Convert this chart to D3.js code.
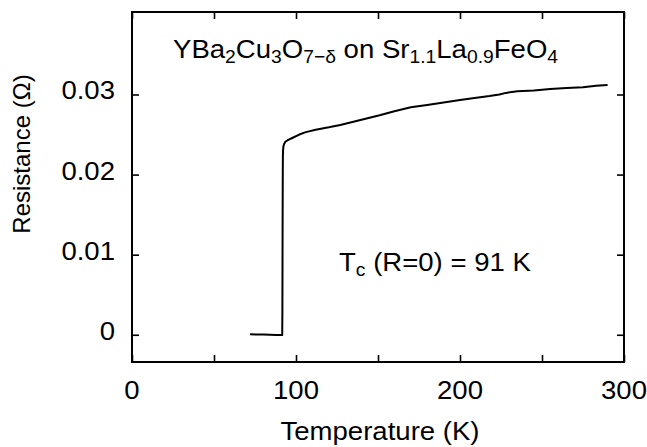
<!DOCTYPE html>
<html>
<head>
<meta charset="utf-8">
<script src="https://cdn.jsdelivr.net/npm/d3@7"></script>
<style>
  html, body { margin: 0; padding: 0; background: #fff; }
  svg { display: block; }
  text { font-family: "Liberation Sans", Arial, Helvetica, sans-serif; fill: #000; }
</style>
</head>
<body>
<svg id="chart" width="647" height="447"></svg>
<script>
// Resistance vs temperature of the YBCO film
const temperature = [72, 76, 80, 84, 88, 90.5, 91.6, 91.7, 91.75, 91.8, 91.85, 91.9, 91.95, 92.0, 92.1, 92.3, 92.7, 93.5, 95, 98, 102, 106, 112, 120, 127, 135, 143, 151, 160, 170, 180, 190, 200, 210, 218, 224, 228, 235, 245, 255, 265, 275, 283, 290];
const resistance  = [0.00005, 0.00003, 0.00002, 0.0, -0.00002, -0.00003, -0.00002, 0.003, 0.007, 0.011, 0.015, 0.018, 0.0205, 0.0222, 0.0230, 0.0235, 0.0238, 0.0241, 0.0243, 0.0246, 0.0250, 0.0253, 0.0256, 0.0259, 0.0262, 0.0266, 0.0270, 0.0274, 0.0279, 0.0284, 0.0287, 0.0290, 0.0293, 0.0296, 0.0298, 0.0300, 0.0302, 0.0304, 0.0305, 0.0307, 0.0308, 0.0309, 0.0311, 0.0312];

const xMajorTicks = [0, 100, 200, 300];
const xMinorTicks = [0, 50, 100, 150, 200, 250, 300];
const yTicks = [0, 0.01, 0.02, 0.03];
const yTickLabels = ["0", "0.01", "0.02", "0.03"];

const svg = d3.select("#chart");
const plotLeft = 132, plotRight = 624, plotTop = 12, plotBottom = 362;
const sx = 1.06; // horizontal stretch of the lettering

const x = d3.scaleLinear().domain([0, 300]).range([plotLeft, plotRight]);
const y = d3.scaleLinear().domain([-0.0034, 0.0403]).range([plotBottom, plotTop]);

// tick marks on all four sides, pointing inward
const tickLen = 7;
const axisStyle = g => {
  g.select(".domain").remove();
  g.selectAll(".tick line").attr("stroke", "#000").attr("stroke-width", 1.6);
};
svg.append("g").attr("transform", `translate(0,${plotBottom})`)
  .call(d3.axisBottom(x).tickValues(xMinorTicks).tickSize(-tickLen).tickFormat(""))
  .call(axisStyle);
svg.append("g").attr("transform", `translate(0,${plotTop})`)
  .call(d3.axisTop(x).tickValues(xMinorTicks).tickSize(-tickLen).tickFormat(""))
  .call(axisStyle);
svg.append("g").attr("transform", `translate(${plotLeft},0)`)
  .call(d3.axisLeft(y).tickValues(yTicks).tickSize(-tickLen).tickFormat(""))
  .call(axisStyle);
svg.append("g").attr("transform", `translate(${plotRight},0)`)
  .call(d3.axisRight(y).tickValues(yTicks).tickSize(-tickLen).tickFormat(""))
  .call(axisStyle);

// frame
svg.append("rect")
  .attr("x", plotLeft).attr("y", plotTop)
  .attr("width", plotRight - plotLeft).attr("height", plotBottom - plotTop)
  .attr("fill", "none").attr("stroke", "#000").attr("stroke-width", 2);

// tick labels
const fs = 26;
svg.append("g").selectAll("text").data(xMajorTicks).join("text")
  .attr("transform", d => `translate(${x(d)},399) scale(${sx},1)`)
  .attr("text-anchor", "middle")
  .attr("font-size", fs)
  .text(d => d);

svg.append("g").selectAll("text").data(yTicks).join("text")
  .attr("transform", d => `translate(115,${y(d) + 5}) scale(${sx},1)`)
  .attr("text-anchor", "end")
  .attr("font-size", fs)
  .text((d, i) => yTickLabels[i]);

// axis titles
svg.append("text")
  .attr("transform", `translate(380,440) scale(${sx},1)`)
  .attr("text-anchor", "middle")
  .attr("font-size", fs)
  .text("Temperature (K)");

svg.append("text")
  .attr("transform", `translate(30,154) rotate(-90)`)
  .attr("text-anchor", "middle")
  .attr("font-size", 24)
  .text("Resistance (\u03A9)");

// data curve
const pts = temperature.map((t, i) => [t, resistance[i]]);
svg.append("path")
  .datum(pts)
  .attr("fill", "none")
  .attr("stroke", "#000")
  .attr("stroke-width", 2)
  .attr("stroke-linejoin", "round")
  .attr("d", d3.line().x(d => x(d[0])).y(d => y(d[1])));

// text with subscripts
function richText(parent, parts, tx, ty, size) {
  const t = parent.append("text")
    .attr("transform", `translate(${tx},${ty}) scale(${sx},1)`)
    .attr("font-size", size);
  let sub = false;
  parts.forEach(([s, isSub]) => {
    const span = t.append("tspan").text(s);
    if (isSub && !sub) { span.attr("dy", size * 0.2).attr("font-size", size * 0.7); }
    else if (isSub) { span.attr("font-size", size * 0.7); }
    else if (!isSub && sub) { span.attr("dy", -size * 0.2); }
    sub = isSub;
  });
  return t;
}

richText(svg, [
  ["YBa", false], ["2", true], ["Cu", false], ["3", true], ["O", false], ["7\u2212\u03B4", true],
  [" on Sr", false], ["1.1", true], ["La", false], ["0.9", true], ["FeO", false], ["4", true]
], 173, 58, fs);

const TC = 91;
richText(svg, [["T", false], ["c", true], [` (R=0) = ${TC} K`, false]], 339, 271, fs);
</script>
</body>
</html>
